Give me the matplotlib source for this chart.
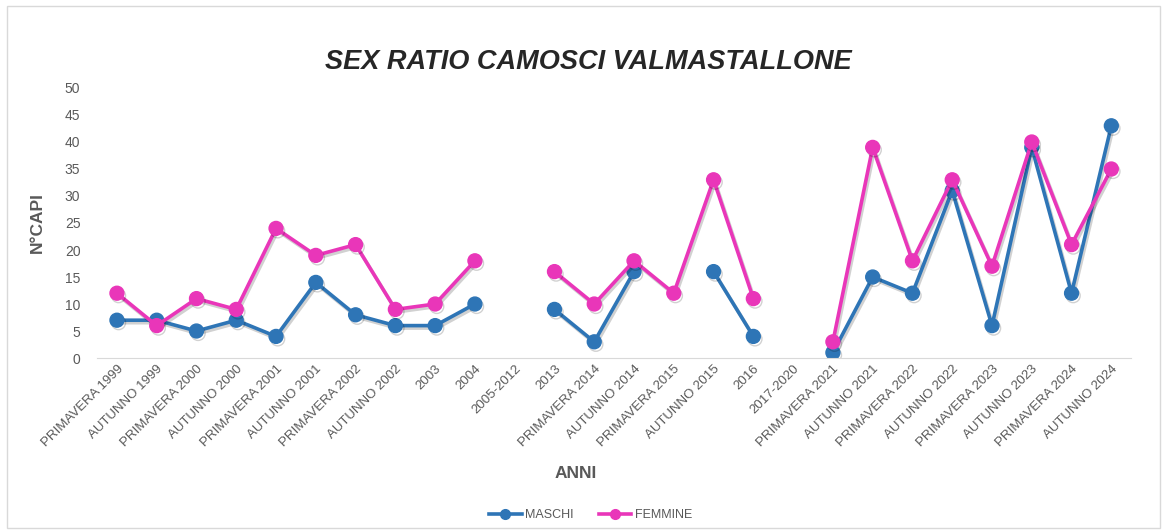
import numpy as np
import matplotlib.pyplot as plt
import matplotlib.patheffects as pe
from matplotlib.patches import Rectangle
from matplotlib.lines import Line2D

plt.rcParams['font.family'] = ['Liberation Sans', 'DejaVu Sans']

categorie = ["PRIMAVERA 1999", "AUTUNNO 1999", "PRIMAVERA 2000", "AUTUNNO 2000",
             "PRIMAVERA 2001", "AUTUNNO 2001", "PRIMAVERA 2002", "AUTUNNO 2002",
             "2003", "2004", "2005-2012", "2013", "PRIMAVERA 2014", "AUTUNNO 2014",
             "PRIMAVERA 2015", "AUTUNNO 2015", "2016", "2017-2020", "PRIMAVERA 2021",
             "AUTUNNO 2021", "PRIMAVERA 2022", "AUTUNNO 2022", "PRIMAVERA 2023",
             "AUTUNNO 2023", "PRIMAVERA 2024", "AUTUNNO 2024"]
maschi = [7, 7, 5, 7, 4, 14, 8, 6, 6, 10, np.nan, 9, 3, 16, np.nan, 16, 4, np.nan,
          1, 15, 12, 31, 6, 39, 12, 43]
femmine = [12, 6, 11, 9, 24, 19, 21, 9, 10, 18, np.nan, 16, 10, 18, 12, 33, 11, np.nan,
           3, 39, 18, 33, 17, 40, 21, 35]

blu = "#2E75B6"
rosa = "#E936B9"
grigio = "#595959"

fig = plt.figure(figsize=(11.65, 5.3), dpi=100)
fig.patches.append(Rectangle((0.006, 0.004), 0.99, 0.985, transform=fig.transFigure,
                             fill=False, edgecolor="#d9d9d9", linewidth=1))
ax = fig.add_axes([0.0833, 0.3245, 0.8877, 0.5095])

x = np.arange(len(categorie))
ombra = [pe.SimpleLineShadow(offset=(1.2, -1.8), alpha=0.18, shadow_color="black"), pe.Normal()]
ax.plot(x, maschi, color=blu, lw=2.6, marker="o", ms=10, path_effects=ombra)
ax.plot(x, femmine, color=rosa, lw=2.6, marker="o", ms=10, path_effects=ombra)

ax.set_xlim(-0.5, len(categorie) - 0.5)
ax.set_ylim(0, 50)
ax.set_yticks(range(0, 51, 5))
ax.set_xticks(x)
ax.set_xticklabels(categorie, rotation=45, ha="right", rotation_mode="anchor")
ax.tick_params(length=0, labelsize=9.5, colors=grigio)
ax.tick_params(axis="y", pad=12, labelsize=10)
for s in ["top", "right", "left"]:
    ax.spines[s].set_visible(False)
ax.spines["bottom"].set_color("#d9d9d9")

fig.text(0.505, 0.883, "SEX RATIO CAMOSCI VALMASTALLONE", fontsize=19.5, fontweight="bold",
         fontstyle="italic", color="#262626", ha="center", va="center")
ax.set_ylabel("N°CAPI", fontsize=12.5, fontweight="bold", color=grigio, labelpad=14)
fig.text(0.494, 0.098, "ANNI", fontsize=12.5, fontweight="bold", color=grigio, ha="center")

maniglie = [Line2D([], [], color=blu, lw=2.6, marker="o", ms=7),
            Line2D([], [], color=rosa, lw=2.6, marker="o", ms=7)]
fig.legend(maniglie, ["MASCHI", "FEMMINE"], loc="center", bbox_to_anchor=(0.507, 0.028),
           ncol=2, frameon=False, fontsize=9, labelcolor=grigio, handlelength=2.6,
           handletextpad=0.3, columnspacing=2)

fig.savefig("out.png", dpi=100)
